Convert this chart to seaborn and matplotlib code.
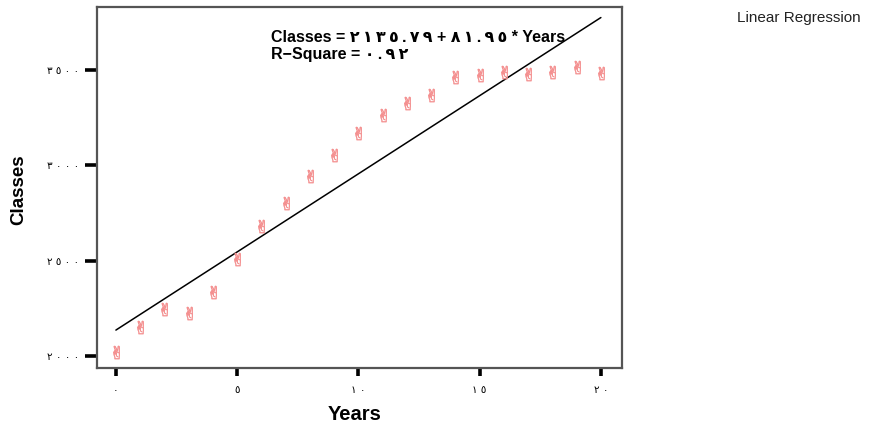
import matplotlib
matplotlib.use("Agg")
import matplotlib.pyplot as plt
import numpy as np
import pandas as pd
import seaborn as sns

# Observed data
years = [0, 1, 2, 3, 4, 5, 6, 7, 8, 9, 10, 11, 12, 13, 14, 15, 16, 17, 18, 19, 20]
classes = [2021, 2152, 2246, 2225, 2336, 2509, 2682, 2802, 2944, 3054, 3170,
           3264, 3327, 3369, 3463, 3474, 3490, 3479, 3490, 3516, 3484]

# Fitted linear model
intercept = 2135.79
slope = 81.95
r_square = 0.92

# Tick values and their labels (Arabic-Indic digits)
x_ticks = [0, 5, 10, 15, 20]
x_tick_labels = ["٠", "٥", "١٠", "١٥", "٢٠"]
y_ticks = [2000, 2500, 3000, 3500]
y_tick_labels = ["٢٠٠٠", "٢٥٠٠", "٣٠٠٠", "٣٥٠٠"]

AR_DIGITS = str.maketrans("0123456789", "٠١٢٣٤٥٦٧٨٩")


def spaced(text, gap="\u2009"):
    """Loosen the tracking of Arabic-Indic numerals with thin spaces."""
    return gap.join(text)


def arabic(num_text):
    return spaced(num_text.translate(AR_DIGITS))


sns.set_theme(style="white")
plt.rcParams["font.family"] = ["Liberation Sans", "DejaVu Sans"]
plt.rcParams["text.color"] = "black"

df = pd.DataFrame({"Years": years, "Classes": classes})
fit_x = np.array([years[0], years[-1]], dtype=float)
fit_df = pd.DataFrame({"Years": fit_x, "Classes": intercept + slope * fit_x})

fig = plt.figure(figsize=(8.93, 4.28), dpi=100)
ax = fig.add_axes([0.1086, 0.1402, 0.5879, 0.8434])

sns.lineplot(data=fit_df, x="Years", y="Classes", ax=ax, color="black",
             linewidth=1.1, zorder=2)
sns.scatterplot(data=df, x="Years", y="Classes", ax=ax, marker="$\u270C$",
                s=90, color="#f49090", edgecolor="#f49090", linewidth=0.4, zorder=3)

ax.set_xlim(-0.78, 20.87)
ax.set_ylim(1937, 3830)
ax.set_xticks(x_ticks)
ax.set_xticklabels([spaced(t, " ") for t in x_tick_labels], family=["DejaVu Sans"],
                   fontsize=7.5, color="black")
ax.set_yticks(y_ticks)
ax.set_yticklabels([spaced(t, " ") for t in y_tick_labels], family=["DejaVu Sans"],
                   fontsize=7.5, color="black")
ax.tick_params(axis="y", direction="out", length=9, width=2.6, color="black",
               left=True, pad=4)
ax.tick_params(axis="x", direction="out", length=6, width=2.6, color="black",
               bottom=True, pad=6)

for side in ax.spines.values():
    side.set_color("#555555")
    side.set_linewidth(1.6)

ax.set_xlabel("Years", fontsize=14.5, fontweight="bold", color="black")
ax.xaxis.set_label_coords(0.491, -0.1025)
ax.set_ylabel("Classes", fontsize=13.5, fontweight="bold", color="black")
ax.yaxis.set_label_coords(-0.133, 0.493)

eq_text = ("Classes = " + arabic(f"{intercept:.2f}") + " + " + arabic(f"{slope:.2f}")
           + " * Years\nR\u2212Square = " + arabic(f"{r_square:.2f}"))
ax.text(0.331, 0.935, eq_text, transform=ax.transAxes, fontsize=11.5,
        fontweight="bold", va="top", ha="left", linespacing=1.1, color="black",
        family=["Liberation Sans", "DejaVu Sans"])

fig.text(0.825, 0.958, "Linear Regression", fontsize=11, ha="left", va="center",
         color="#222222")

fig.savefig("out.png", dpi=100)
